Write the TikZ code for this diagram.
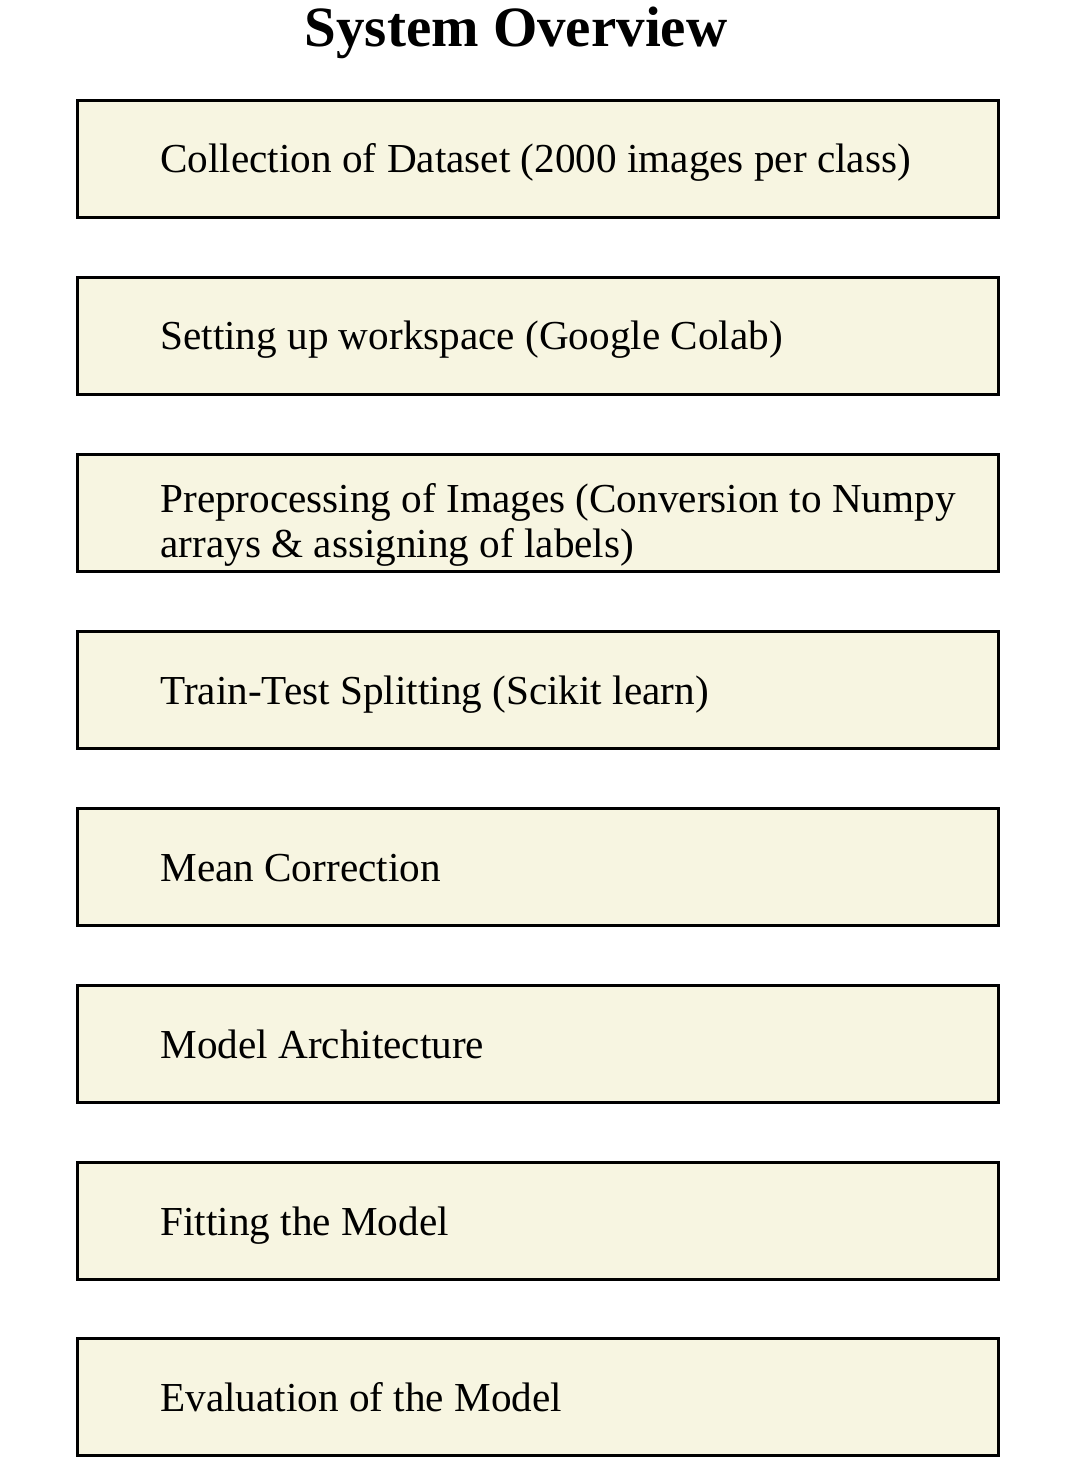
\documentclass[tikz,border=0pt]{standalone}
\usepackage{fontspec}
\setmainfont{Liberation Serif}
\definecolor{stepfill}{RGB}{247,245,225}
\begin{document}
\begin{tikzpicture}[x=0.5pt,y=-0.5pt,
  stagebox/.style={draw=black, line width=1.5pt, fill=stepfill, rectangle,
    minimum width=460.5pt, minimum height=58.5pt, inner sep=0pt, anchor=north west},
  stagetext/.style={anchor=base west, inner sep=0pt, font=\fontsize{20.6pt}{22.5pt}\selectfont, align=left},
  heading/.style={anchor=base, inner sep=0pt, font=\fontsize{28.5pt}{30pt}\selectfont\bfseries}]
\useasboundingbox (0,0) rectangle (1081,1476);
\node[heading] (title) at (516,47) {System Overview};

% stage boxes, top to bottom
\node[stagebox] (b1) at (76,99) {};
\node[stagebox] (b2) at (76,276) {};
\node[stagebox] (b3) at (76,453) {};
\node[stagebox] (b4) at (76,630) {};
\node[stagebox] (b5) at (76,807) {};
\node[stagebox] (b6) at (76,984) {};
\node[stagebox] (b7) at (76,1161) {};
\node[stagebox] (b8) at (76,1337) {};

% stage labels (anchored on the baseline of their last line)
\node[stagetext] (t1) at (160,173) {Collection of Dataset (2000 images per class)};
\node[stagetext] (t2) at (160,350) {Setting up workspace (Google Colab)};
\node[stagetext] (t3) at (160,557) {Preprocessing of Images (Conversion to Numpy\\arrays \& assigning of labels)};
\node[stagetext] (t4) at (160,704) {Train-Test Splitting (Scikit learn)};
\node[stagetext] (t5) at (160,881) {Mean Correction};
\node[stagetext] (t6) at (160,1058) {Model Architecture};
\node[stagetext] (t7) at (160,1235) {Fitting the Model};
\node[stagetext] (t8) at (160,1411) {Evaluation of the Model};
\end{tikzpicture}
\end{document}
